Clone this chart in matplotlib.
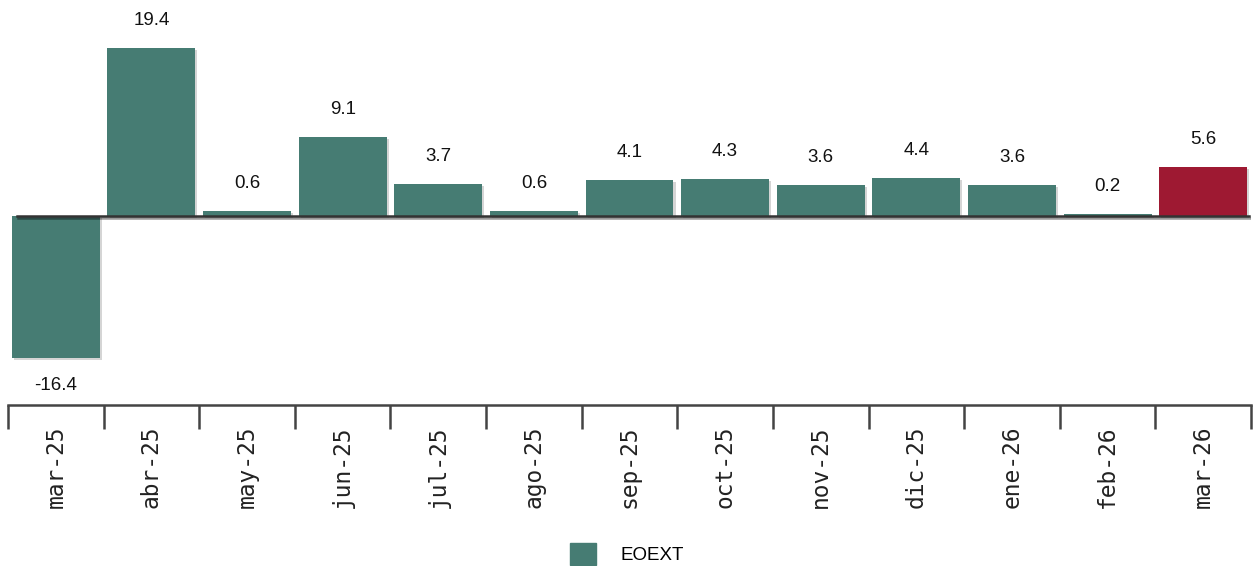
import numpy as np
import matplotlib.pyplot as plt
import matplotlib.patheffects as pe
from matplotlib.patches import Patch

# Data
months = ['mar-25', 'abr-25', 'may-25', 'jun-25', 'jul-25', 'ago-25', 'sep-25',
          'oct-25', 'nov-25', 'dic-25', 'ene-26', 'feb-26', 'mar-26']
values = [-16.4, 19.4, 0.6, 9.1, 3.7, 0.6, 4.1, 4.3, 3.6, 4.4, 3.6, 0.2, 5.6]
series_name = 'EOEXT'

teal = '#467c73'
red = '#9e1932'
colors = [teal] * (len(values) - 1) + [red]

fig = plt.figure(figsize=(12.54, 5.66), dpi=100)
ax = fig.add_axes([8 / 1254, 161 / 566, 1243 / 1254, 405 / 566])

x = np.arange(len(values))
shadow = [pe.SimplePatchShadow(offset=(1.5, -1.5), shadow_rgbFace='#888888', alpha=0.35), pe.Normal()]
bars = ax.bar(x, values, width=0.92, color=colors, zorder=2)
for b in bars:
    b.set_path_effects(shadow)

# zero line
ax.axhline(0, xmin=0.007, xmax=0.998, color='#333333', lw=1.8, zorder=3,
           path_effects=[pe.SimpleLineShadow(offset=(1, -1.5), alpha=0.4), pe.Normal()])

# value labels
for xi, v in zip(x, values):
    if v >= 0:
        ax.text(xi, v + 2.2, f'{v:.1f}', ha='center', va='bottom', fontsize=13.5,
                family='Liberation Sans', color='#111111')
    else:
        ax.text(xi, v - 2.2, f'{v:.1f}', ha='center', va='top', fontsize=13.5,
                family='Liberation Sans', color='#111111')

ax.set_xlim(-0.5, len(values) - 0.5)
ax.set_ylim(-21.8, 24.9)

for s in ['top', 'left', 'right']:
    ax.spines[s].set_visible(False)
ax.spines['bottom'].set_color('#444444')
ax.spines['bottom'].set_linewidth(1.8)
ax.set_yticks([])

# boundary ticks as major, labels at centers as minor
ax.set_xticks(np.arange(-0.5, len(values), 1.0))
ax.set_xticklabels([])
ax.tick_params(axis='x', which='major', length=17, width=1.8, color='#444444', direction='out')
ax.set_xticks(x, minor=True)
ax.set_xticklabels(months, minor=True, rotation=90, fontsize=16.5,
                   family='DejaVu Sans Mono', color='#222222')
ax.tick_params(axis='x', which='minor', length=0, pad=15)

# legend
fig.legend(handles=[Patch(color=teal, label=series_name)], loc='lower center',
           bbox_to_anchor=(0.5, -0.028), frameon=False,
           prop={'family': 'Liberation Sans', 'size': 13.5},
           handlelength=1.4, handleheight=1.4, handletextpad=1.3)

fig.savefig('out.png', dpi=100)
